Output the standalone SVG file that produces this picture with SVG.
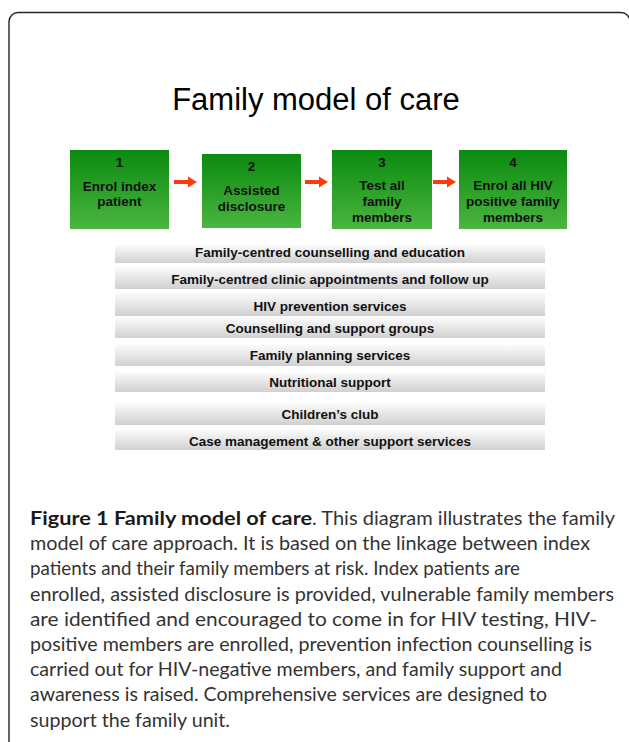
<svg xmlns="http://www.w3.org/2000/svg" width="629" height="742" viewBox="0 0 629 742">
<style>
.frame{fill:none;stroke:#222;stroke-width:1.4}
.title{font-family:"Liberation Sans",Arial,sans-serif;font-size:31px;fill:#000;text-anchor:middle}
.box{fill:url(#green)}
.bt{font-family:"Liberation Sans",Arial,sans-serif;font-size:13.5px;font-weight:bold;fill:#111;text-anchor:middle}
.bar{fill:url(#gray)}
.arrow{fill:#f83c12}
.cap{font-family:Lato,"Open Sans",sans-serif;font-size:19px;font-weight:normal;fill:#333}
.capb{font-family:Lato,"Open Sans",sans-serif;font-size:19px;font-weight:bold;fill:#1a1a1a}
</style>
<defs>
<linearGradient id="green" x1="0" y1="0" x2="0" y2="1">
<stop offset="0" stop-color="#0b8a10"/>
<stop offset="1" stop-color="#4bb540"/>
</linearGradient>
<linearGradient id="gray" x1="0" y1="0" x2="0" y2="1">
<stop offset="0" stop-color="#fbfbfb"/>
<stop offset="1" stop-color="#d0d0d0"/>
</linearGradient>
</defs>
<rect width="629" height="742" fill="#fff"/>
<path class="frame" d="M9,742 V21.5 A9,9 0 0 1 18,12.5 H621 A9,9 0 0 1 630,21.5 V742"/>
<text class="title" x="316" y="110">Family model of care</text>

<g id="step1">
<rect class="box" x="70" y="150" width="99" height="79"/>
<text class="bt" x="119.5" y="167">1</text>
<text class="bt" x="119.5" y="191">Enrol index</text>
<text class="bt" x="119.5" y="206">patient</text>
</g>
<g id="step2">
<rect class="box" x="202" y="154" width="99" height="74"/>
<text class="bt" x="251.5" y="171">2</text>
<text class="bt" x="251.5" y="195">Assisted</text>
<text class="bt" x="251.5" y="211">disclosure</text>
</g>
<g id="step3">
<rect class="box" x="332" y="150" width="100" height="79"/>
<text class="bt" x="382" y="167">3</text>
<text class="bt" x="382" y="190">Test all</text>
<text class="bt" x="382" y="206">family</text>
<text class="bt" x="382" y="222">members</text>
</g>
<g id="step4">
<rect class="box" x="459" y="150" width="108" height="79"/>
<text class="bt" x="513" y="167">4</text>
<text class="bt" x="513" y="190">Enrol all HIV</text>
<text class="bt" x="513" y="206">positive family</text>
<text class="bt" x="513" y="222">members</text>
</g>

<g id="connectors">
<path class="arrow" d="M174,180 H188 V176.5 L197,182 L188,187.5 V184 H174 Z"/>
<path class="arrow" d="M305,180 H319 V176.5 L328,182 L319,187.5 V184 H305 Z"/>
<path class="arrow" d="M433,180 H447 V176.5 L456,182 L447,187.5 V184 H433 Z"/>
</g>

<g id="service1"><rect class="bar" x="115" y="245" width="430" height="18"/><text class="bt" x="330" y="256.5">Family-centred counselling and education</text></g>
<g id="service2"><rect class="bar" x="115" y="267" width="430" height="22"/><text class="bt" x="330" y="283.5">Family-centred clinic appointments and follow up</text></g>
<g id="service3"><rect class="bar" x="115" y="293" width="430" height="23"/><text class="bt" x="330" y="310.5">HIV prevention services</text></g>
<g id="service4"><rect class="bar" x="115" y="318" width="430" height="20"/><text class="bt" x="330" y="332.5">Counselling and support groups</text></g>
<g id="service5"><rect class="bar" x="115" y="345" width="430" height="21"/><text class="bt" x="330" y="359.5">Family planning services</text></g>
<g id="service6"><rect class="bar" x="115" y="372" width="430" height="20"/><text class="bt" x="330" y="386.5">Nutritional support</text></g>
<g id="service7"><rect class="bar" x="115" y="403" width="430" height="22"/><text class="bt" x="330" y="418.5">Children’s club</text></g>
<g id="service8"><rect class="bar" x="115" y="430" width="430" height="20"/><text class="bt" x="330" y="445.5">Case management &amp; other support services</text></g>

<g id="caption">
<text class="capb" x="30" y="525" textLength="282" lengthAdjust="spacingAndGlyphs">Figure 1 Family model of care</text>
<text class="cap" x="312" y="525" textLength="303" lengthAdjust="spacingAndGlyphs">. This diagram illustrates the family</text>
<text class="cap" x="30" y="550.2" textLength="560" lengthAdjust="spacingAndGlyphs">model of care approach. It is based on the linkage between index</text>
<text class="cap" x="30" y="575.4" textLength="490" lengthAdjust="spacingAndGlyphs">patients and their family members at risk. Index patients are</text>
<text class="cap" x="30" y="600.6" textLength="584" lengthAdjust="spacingAndGlyphs">enrolled, assisted disclosure is provided, vulnerable family members</text>
<text class="cap" x="30" y="625.8" textLength="567" lengthAdjust="spacingAndGlyphs">are identified and encouraged to come in for HIV testing, HIV-</text>
<text class="cap" x="30" y="651" textLength="562" lengthAdjust="spacingAndGlyphs">positive members are enrolled, prevention infection counselling is</text>
<text class="cap" x="30" y="676.2" textLength="532" lengthAdjust="spacingAndGlyphs">carried out for HIV-negative members, and family support and</text>
<text class="cap" x="30" y="701.4" textLength="517" lengthAdjust="spacingAndGlyphs">awareness is raised. Comprehensive services are designed to</text>
<text class="cap" x="30" y="726.6" textLength="200" lengthAdjust="spacingAndGlyphs">support the family unit.</text>
</g>
</svg>
